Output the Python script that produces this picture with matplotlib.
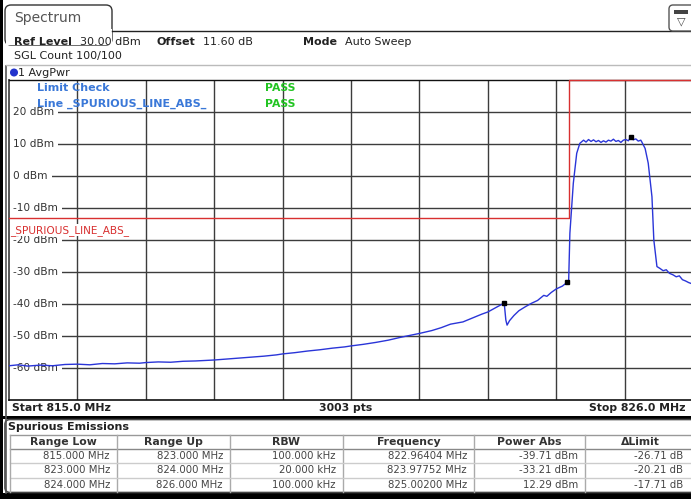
import matplotlib
matplotlib.use('Agg')
import matplotlib.pyplot as plt
from matplotlib.patches import FancyBboxPatch, Rectangle, Circle
from matplotlib.transforms import blended_transform_factory

plt.rcParams['font.family'] = ['DejaVu Sans']

# ---------------- data ----------------
f_start, f_stop = 815.0, 826.0
ref_level, y_bottom = 30.0, -70.0

freq_mhz = [
    815.00, 815.15, 815.30, 815.50, 815.70, 815.90, 816.10, 816.30, 816.50, 816.70,
    816.90, 817.10, 817.20, 817.40, 817.60, 817.80, 818.00, 818.20, 818.30, 818.50,
    818.70, 818.90, 819.10, 819.30, 819.40, 819.60, 819.80, 820.00, 820.20, 820.40,
    820.50, 820.70, 820.90, 821.10, 821.30, 821.50, 821.60, 821.80, 821.95, 822.10,
    822.30, 822.45, 822.60, 822.70, 822.85, 822.964, 822.99, 823.01, 823.05, 823.12,
    823.20, 823.30, 823.40, 823.50, 823.60, 823.65, 823.72, 823.80, 823.90, 823.9775,
    824.00, 824.02, 824.075, 824.13, 824.18, 824.24, 824.28, 824.32, 824.36, 824.40,
    824.44, 824.48, 824.52, 824.56, 824.60, 824.64, 824.68, 824.72, 824.76, 824.80,
    824.84, 824.88, 824.92, 824.96, 825.002, 825.04, 825.08, 825.12, 825.16, 825.175,
    825.23, 825.28, 825.34, 825.37, 825.42, 825.47, 825.52, 825.57, 825.62, 825.68,
    825.73, 825.78, 825.83, 825.88, 825.93, 826.00,
]
level_dbm = [
    -59.3, -59.0, -59.4, -59.1, -59.3, -58.9, -58.8, -59.0, -58.6, -58.7,
    -58.4, -58.5, -58.3, -58.1, -58.2, -57.9, -57.8, -57.6, -57.5, -57.2,
    -56.9, -56.6, -56.3, -55.9, -55.6, -55.2, -54.7, -54.3, -53.8, -53.4,
    -53.1, -52.6, -52.0, -51.3, -50.4, -49.6, -49.2, -48.3, -47.4, -46.3,
    -45.6, -44.4, -43.2, -42.5, -40.9, -39.71, -45.0, -46.6, -45.2, -43.6,
    -42.1, -40.9, -39.8, -38.9, -37.3, -37.6, -36.4, -35.3, -34.4, -33.21,
    -33.0, -17.9, -2.3, 7.1, 10.2, 11.2, 10.6, 11.4, 10.8, 11.3,
    10.7, 11.1, 10.5, 11.0, 10.6, 11.2, 10.9, 11.5, 10.8, 11.1,
    10.5, 11.2, 11.4, 11.0, 12.29, 11.3, 11.6, 10.9, 11.2, 10.7,
    8.6, 4.0, -6.5, -20.0, -28.3, -28.9, -29.6, -29.3, -30.4, -30.9,
    -31.5, -31.2, -32.4, -32.8, -33.3, -33.8,
]
marker_freq = [822.96404, 823.97752, 825.00200]
marker_level = [-39.71, -33.21, 12.29]
limit_freq = [815.0, 824.0, 824.0, 826.0]
limit_level = [-13.0, -13.0, 30.0, 30.0]

y_ticks = [20, 10, 0, -10, -20, -30, -40, -50, -60]
y_tick_labels = ['20 dBm', '10 dBm', '0 dBm', '-10 dBm', '-20 dBm',
                 '-30 dBm', '-40 dBm', '-50 dBm', '-60 dBm']

col_headers = ['Range Low', 'Range Up', 'RBW', 'Frequency', 'Power Abs', '\u0394Limit']
range_low = ['815.000 MHz', '823.000 MHz', '824.000 MHz']
range_up = ['823.000 MHz', '824.000 MHz', '826.000 MHz']
rbw = ['100.000 kHz', '20.000 kHz', '100.000 kHz']
peak_freq = ['822.96404 MHz', '823.97752 MHz', '825.00200 MHz']
power_abs = ['-39.71 dBm', '-33.21 dBm', '12.29 dBm']
delta_limit = ['-26.71 dB', '-20.21 dB', '-17.71 dB']

# ---------------- figure ----------------
W, H = 691, 499
fig = plt.figure(figsize=(W / 100, H / 100), dpi=100)
fig.patch.set_facecolor('white')

ax0 = fig.add_axes([0, 0, 1, 1])
ax0.set_xlim(0, W)
ax0.set_ylim(H, 0)
ax0.axis('off')

TXT = '#222222'
BLUE_T = '#3a78d8'
GREEN_T = '#22c422'
RED = '#d83030'
TRACE = '#2a35d8'

# outer frame pieces
ax0.add_patch(Rectangle((0, 0), 3, H, color='black', lw=0))
ax0.plot([6, 6], [66, 493], color='#555555', lw=1.2)
ax0.add_patch(Rectangle((0, 415.5), W, 3, color='black', lw=0))
ax0.add_patch(Rectangle((0, 493), W, 6, color='black', lw=0))

# Tab "Spectrum"
ax0.add_patch(FancyBboxPatch((5, 5), 107, 40, boxstyle='round,pad=0,rounding_size=6',
                             fc='white', ec='#333333', lw=1.0))
ax0.add_patch(Rectangle((5.6, 29), 106, 16, color='white', lw=0, zorder=3))
ax0.plot([112, W], [31, 31], color='#222222', lw=1.0, zorder=4)
ax0.text(14, 18, 'Spectrum', fontsize=10, color='#555555', va='center', ha='left')

# icon top right
ax0.add_patch(FancyBboxPatch((669, 5), 30, 26, boxstyle='round,pad=0,rounding_size=4',
                             fc='white', ec='#555555', lw=1.0, zorder=5))
ax0.add_patch(Rectangle((674, 10), 14, 4, fc='#444444', ec='none', zorder=6))
ax0.text(681, 21, '\u25bd', fontsize=8, color='#444444', ha='center', va='center', zorder=6)

# header text
ax0.text(14, 42, 'Ref Level', fontsize=8, fontweight='bold', color=TXT, va='center')
ax0.text(80, 42, '30.00 dBm', fontsize=8, color=TXT, va='center')
ax0.text(157, 42, 'Offset', fontsize=8, fontweight='bold', color=TXT, va='center')
ax0.text(203, 42, '11.60 dB', fontsize=8, color=TXT, va='center')
ax0.text(303, 42, 'Mode', fontsize=8, fontweight='bold', color=TXT, va='center')
ax0.text(345, 42, 'Auto Sweep', fontsize=8, color=TXT, va='center')
ax0.text(14, 56, 'SGL Count 100/100', fontsize=8, color=TXT, va='center')
ax0.plot([6, W], [65, 65], color='#bbbbbb', lw=1.0)
ax0.add_patch(Circle((14, 72.5), 3.3, color='#2233cc'))
ax0.text(18, 72.5, '1 AvgPwr', fontsize=8, color=TXT, va='center')

# ---------------- main trace axes ----------------
L, R, T, B = 9, 693, 80, 400
ax = fig.add_axes([L / W, (H - B) / H, (R - L) / W, (B - T) / H])
ax.set_xlim(f_start, f_stop)
ax.set_ylim(y_bottom, ref_level)
ax.set_xticks([])
ax.set_yticks([])
ax.set_facecolor('white')
ax.spines['right'].set_visible(False)
ax.spines['left'].set_color('#555555')
ax.spines['left'].set_linewidth(1.4)
ax.spines['top'].set_color('#111111')
ax.spines['top'].set_linewidth(1.0)
ax.spines['bottom'].set_color('#111111')
ax.spines['bottom'].set_linewidth(1.2)

step = (f_stop - f_start) / 10
for k in range(1, 10):
    ax.axvline(f_start + k * step, color='#3c3c3c', lw=1.0, zorder=1)
for v in y_ticks:
    ax.axhline(v, color='#3c3c3c', lw=1.0, zorder=1)

trans_lbl = blended_transform_factory(ax0.transData, ax.transData)
for v, lab in zip(y_ticks, y_tick_labels):
    ax.text(13, v, lab, transform=trans_lbl, fontsize=7.6, color='#333333',
            va='center', ha='left', zorder=2,
            bbox=dict(boxstyle='square,pad=0.4', fc='white', ec='none'))

ax.plot(limit_freq, limit_level, color=RED, lw=1.0, zorder=3, clip_on=False)
ax.text(10, -15.2, '_SPURIOUS_LINE_ABS_', transform=trans_lbl, fontsize=7.6,
        color=RED, va='top', ha='left', zorder=3,
        bbox=dict(fc='white', ec='none', pad=0.3))

ax.plot(freq_mhz, level_dbm, color=TRACE, lw=1.0, zorder=4)
ax.plot(marker_freq, marker_level, 's', color='black', ms=3.2, zorder=5)

trans_px = ax0.transData
ax.text(37, 88, 'Limit Check', transform=trans_px, fontsize=8, fontweight='bold',
        color=BLUE_T, va='center', zorder=6)
ax.text(37, 103.5, 'Line _SPURIOUS_LINE_ABS_', transform=trans_px, fontsize=8,
        fontweight='bold', color=BLUE_T, va='center', zorder=6)
ax.text(265, 88, 'PASS', transform=trans_px, fontsize=7.8, fontweight='bold',
        color=GREEN_T, va='center', zorder=6)
ax.text(265, 103.5, 'PASS', transform=trans_px, fontsize=7.8, fontweight='bold',
        color=GREEN_T, va='center', zorder=6)

# footer of diagram
ax0.text(12, 408, 'Start %.1f MHz' % f_start, fontsize=7.8, fontweight='bold', color=TXT, va='center')
ax0.text(346, 408, '3003 pts', fontsize=7.8, fontweight='bold', color=TXT, va='center', ha='center')
ax0.text(686, 408, 'Stop %.1f MHz' % f_stop, fontsize=7.8, fontweight='bold', color=TXT, va='center', ha='right')

# ---------------- table ----------------
ax0.add_patch(FancyBboxPatch((5, 419.5), 700, 73, boxstyle='round,pad=0,rounding_size=5',
                             fc='white', ec='#444444', lw=1.2))
ax0.text(8, 426.5, 'Spurious Emissions', fontsize=8, fontweight='bold', color=TXT, va='center')

col_edges = [10, 117, 230, 343, 474, 585, 705]
hdr_top, hdr_bot = 434.5, 449
row_h = 14.3
ax0.plot([10, W], [hdr_top, hdr_top], color='#999999', lw=1.0)
ax0.plot([10, W], [hdr_bot, hdr_bot], color='#888888', lw=1.0)
for e in col_edges[1:-1]:
    ax0.plot([e, e], [hdr_top, hdr_bot + 3 * row_h], color='#aaaaaa', lw=1.0)
for i in range(1, 3):
    yy = hdr_bot + i * row_h
    ax0.plot([10, W], [yy, yy], color='#cccccc', lw=1.0)
ax0.plot([10, 10], [hdr_top, hdr_bot + 3 * row_h], color='#aaaaaa', lw=1.0)

for j, h in enumerate(col_headers):
    cx = (col_edges[j] + col_edges[j + 1]) / 2
    if j == 5:
        cx = 640
    ax0.text(cx, 442, h, fontsize=7.8, fontweight='bold', color='#333333', ha='center', va='center')

columns = [range_low, range_up, rbw, peak_freq, power_abs, delta_limit]
for j, col in enumerate(columns):
    xr = col_edges[j + 1] - 7
    if j == 5:
        xr = 683
    for i, val in enumerate(col):
        yc = hdr_bot + (i + 0.5) * row_h
        ax0.text(xr, yc, val, fontsize=7.3, color='#444444', ha='right', va='center')

fig.savefig('out.png', dpi=100)
